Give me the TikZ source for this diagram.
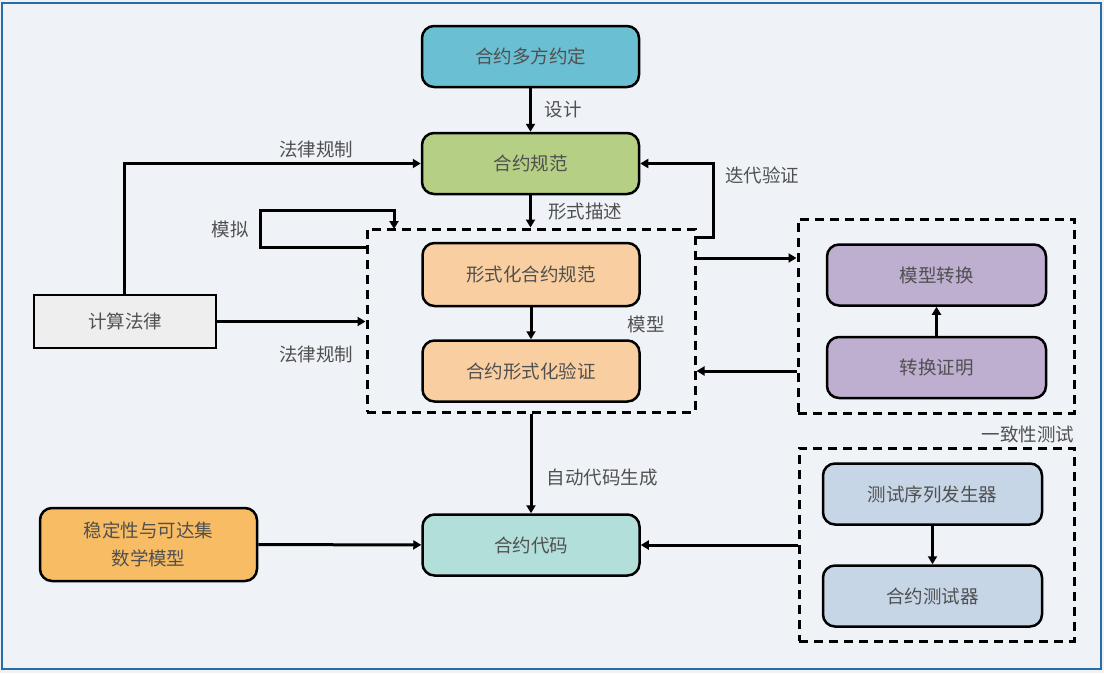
\documentclass[tikz,border=0pt]{standalone}
\usepackage{fontspec}
\setmainfont{Noto Sans CJK SC}
\usetikzlibrary{positioning}
\usetikzlibrary{calc}
\usetikzlibrary{arrows.meta}

\definecolor{bgfill}{HTML}{EFF3F8}
\definecolor{bgline}{HTML}{2B6CA3}
\definecolor{txtgray}{HTML}{505050}
\definecolor{cteal}{HTML}{6BBFD2}
\definecolor{cgreen}{HTML}{B5CF85}
\definecolor{cpeach}{HTML}{F9CFA2}
\definecolor{cgray}{HTML}{EEEEEE}
\definecolor{cpurple}{HTML}{BEAED0}
\definecolor{cblue}{HTML}{C7D6E6}
\definecolor{cmint}{HTML}{B3DFDA}
\definecolor{corange}{HTML}{F8BD64}

\begin{document}
\begin{tikzpicture}[x=1pt,y=-1pt,->,>={Triangle[length=8pt,width=9pt]},line width=3pt,
					font=\fontsize{18.5}{22}\selectfont,text=txtgray]
					\tikzstyle{block}=[draw,line width=2.5pt,rounded corners=12pt,minimum width=217pt,minimum height=61pt,align=center]
					\tikzstyle{dashbox}=[draw,line width=3pt,dash pattern=on 9pt off 6pt,rectangle]
					\tikzstyle{lbl}=[inner sep=0pt]
					
					\fill[bgfill] (0,0) rectangle (1104,673);
					\draw[-,bgline,line width=1.5pt] (2,3) rectangle (1101,669);
					
					\node[dashbox,minimum width=328pt,minimum height=183pt] (model) at (531,320.5) {};
					\node[dashbox,minimum width=276pt,minimum height=194pt] (conv)  at (936,316)   {};
					\node[dashbox,minimum width=275pt,minimum height=193pt] (test)  at (936.5,544.5) {};
					
					\node[block,fill=cteal]   (agree)  at (530.5,56.5)  {合约多方约定};
					\node[block,fill=cgreen]  (spec)   at (530.5,163.5) {合约规范};
					\node[block,fill=cpeach,minimum height=63pt] (fspec) at (531,274.5) {形式化合约规范};
					\node[block,fill=cpeach]  (fver)   at (531,371)     {合约形式化验证};
					\node[block,fill=cmint]   (code)   at (531,545)     {合约代码};
					\node[block,fill=corange,minimum height=73pt] (math) at (148.5,544.5) {稳定性与可达集\\[6pt]数学模型};
					\node[block,fill=cgray,rounded corners=0pt,minimum width=182pt,minimum height=53pt] (law) at (125,321.5) {计算法律};
					\node[block,fill=cpurple,minimum width=219pt] (trans)  at (936.5,275)   {模型转换};
					\node[block,fill=cpurple,minimum width=219pt] (proof)  at (936.5,367.5) {转换证明};
					\node[block,fill=cblue,minimum width=219pt]   (gen)    at (932.5,494)   {测试序列发生器};
					\node[block,fill=cblue,minimum width=219pt]   (tester) at (932.5,596)   {合约测试器};
					
					\node[lbl] (l_design) at (563,110) {设计};
					\node[lbl] (l_form)   at (585,212) {形式描述};
					\node[lbl] (l_model)  at (646,324) {模型};
					\node[lbl] (l_law1)   at (316,149) {法律规制};
					\node[lbl] (l_law2)   at (316,354) {法律规制};
					\node[lbl] (l_sim)    at (230,229) {模拟};
					\node[lbl] (l_iter)   at (762,175) {迭代验证};
					\node[lbl] (l_auto)   at (602,478) {自动代码生成};
					\node[lbl] (l_conf)   at (1028,434) {一致性测试};
					
					\coordinate (simA) at (367,247);
					\coordinate (simB) at (394,229);
					\coordinate (iterA) at (695,237);
					
					\path (agree) edge (spec)
					(spec) edge (model.north -| spec)
					(fspec) edge (fver)
					(model.south -| code) edge (code)
					(law) edge (model.west |- law)
					(proof) edge (trans)
					(gen) edge (tester)
					(math) edge (code)
					($(model.east)+(0,-62.5)$) edge (conv.west |- {(0,258)})
					(conv.west |- {(0,371)}) edge (model.east |- {(0,371)})
					(test.west |- code) edge (code)
					;
					\draw (law.north -| {(124,0)}) |- (spec.west);
					\draw (simA) -- (260,247) -- (260,210) -| (simB);
					\draw (iterA) -- (713,237) -- (713,163.5) -- (spec.east);
					\end{tikzpicture}
\end{document}
